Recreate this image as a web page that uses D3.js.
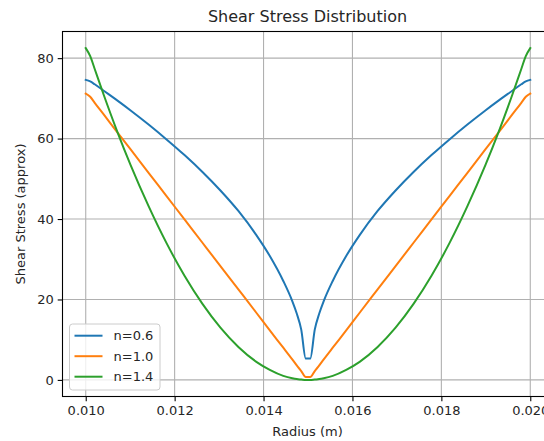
<!DOCTYPE html>
<html>
<head>
<meta charset="utf-8">
<script src="https://cdn.jsdelivr.net/npm/d3@7"></script>
<style>
  body { margin: 0; background: #fff; }
  svg text { font-family: "DejaVu Sans", sans-serif; fill: #262626; }
</style>
</head>
<body>
<div id="chart"></div>
<script>
// radius samples (m)
var radius = [0.010000, 0.010101, 0.010202, 0.010404, 0.010707, 0.011010, 0.011414, 0.011818,
  0.012222, 0.012626, 0.013030, 0.013434, 0.013838, 0.014141, 0.014444, 0.014646, 0.014747,
  0.014848, 0.014949, 0.015051, 0.015152, 0.015253, 0.015354, 0.015556, 0.015859, 0.016162,
  0.016566, 0.016970, 0.017374, 0.017778, 0.018182, 0.018586, 0.018990, 0.019293, 0.019596,
  0.019798, 0.019899, 0.020000];

var tauN06 = [74.6, 74.2, 73.5, 71.9, 69.5, 67.0, 63.5, 59.8, 55.9, 51.7, 47.1, 42.0, 36.0,
  30.8, 24.6, 19.6, 16.5, 12.5, 5.3, 5.3, 12.5, 16.5, 19.6, 24.6, 30.8, 36.0, 42.0, 47.1,
  51.7, 55.9, 59.8, 63.5, 67.0, 69.5, 71.9, 73.5, 74.2, 74.6];

var tauN10 = [71.2, 70.4, 68.9, 66.0, 61.6, 57.3, 51.5, 45.7, 39.9, 34.1, 28.3, 22.5, 16.7,
  12.3, 8.0, 5.1, 3.6, 2.2, 0.7, 0.7, 2.2, 3.6, 5.1, 8.0, 12.3, 16.7, 22.5, 28.3, 34.1,
  39.9, 45.7, 51.5, 57.3, 61.6, 66.0, 68.9, 70.4, 71.2];

var tauN14 = [82.5, 80.5, 77.3, 70.9, 61.8, 53.4, 43.2, 34.0, 25.9, 18.9, 13.0, 8.2, 4.5,
  2.5, 1.0, 0.4, 0.2, 0.1, 0.0, 0.0, 0.1, 0.2, 0.4, 1.0, 2.5, 4.5, 8.2, 13.0, 18.9, 25.9,
  34.0, 43.2, 53.4, 61.8, 70.9, 77.3, 80.5, 82.5];

var seriesNames = ["n=0.6", "n=1.0", "n=1.4"];
var seriesColors = ["#1f77b4", "#ff7f0e", "#2ca02c"];
var xTicks = [0.010, 0.012, 0.014, 0.016, 0.018, 0.020];
var yTicks = [0, 20, 40, 60, 80];

var width = 544, height = 441;
var axLeft = 62.5, axRight = 552.5, axTop = 31.5, axBottom = 396.5;

var svg = d3.select("#chart").append("svg")
  .attr("width", width)
  .attr("height", height);

var x = d3.scaleLinear().domain([0.0095, 0.0205]).range([axLeft + 1, axRight]);
var y = d3.scaleLinear().domain([-4.125, 86.625]).range([axBottom, axTop]);

// grid
svg.append("g").selectAll("line").data(xTicks).enter().append("line")
  .attr("x1", function(d) { return x(d); }).attr("x2", function(d) { return x(d); })
  .attr("y1", axTop).attr("y2", axBottom)
  .style("stroke", "#b0b0b0").style("stroke-width", 1.1);
svg.append("g").selectAll("line").data(yTicks).enter().append("line")
  .attr("x1", axLeft).attr("x2", axRight)
  .attr("y1", function(d) { return y(d); }).attr("y2", function(d) { return y(d); })
  .style("stroke", "#b0b0b0").style("stroke-width", 1.1);

// series
var all = [tauN06, tauN10, tauN14];
var line = d3.line()
  .curve(d3.curveMonotoneX)
  .x(function(d, i) { return x(radius[i]); })
  .y(function(d) { return y(d); });

var plot = svg.append("g");
all.forEach(function(vals, k) {
  plot.append("path")
    .attr("d", line(vals))
    .style("fill", "none")
    .style("stroke", seriesColors[k])
    .style("stroke-width", 2)
    .style("stroke-linejoin", "round")
    .style("stroke-linecap", "square");
});

// axes
var xAxis = svg.append("g")
  .attr("transform", "translate(0," + axBottom + ")")
  .call(d3.axisBottom(x).tickValues(xTicks).tickFormat(d3.format(".3f")).tickSizeOuter(0).tickSize(4.8).tickPadding(4));
var yAxis = svg.append("g")
  .attr("transform", "translate(" + axLeft + ",0)")
  .call(d3.axisLeft(y).tickValues(yTicks).tickSizeOuter(0).tickSize(4.8).tickPadding(4));

[xAxis, yAxis].forEach(function(a) {
  a.select(".domain").remove();
  a.selectAll("line").style("stroke", "#000").style("stroke-width", 1.1);
  a.selectAll("text").style("font-size", "13px").style("fill", "#262626")
    .style("font-family", "DejaVu Sans, sans-serif");
});

// spines
svg.append("rect")
  .attr("x", axLeft).attr("y", axTop)
  .attr("width", axRight - axLeft).attr("height", axBottom - axTop)
  .style("fill", "none").style("stroke", "#000").style("stroke-width", 1.1);

// labels
svg.append("text")
  .attr("x", (axLeft + axRight) / 2).attr("y", 22)
  .attr("text-anchor", "middle")
  .style("font-size", "16px")
  .text("Shear Stress Distribution");

svg.append("text")
  .attr("x", (axLeft + axRight) / 2).attr("y", 436)
  .attr("text-anchor", "middle")
  .style("font-size", "13px")
  .text("Radius (m)");

svg.append("text")
  .attr("transform", "translate(25," + ((axTop + axBottom) / 2) + ") rotate(-90)")
  .attr("text-anchor", "middle")
  .style("font-size", "13px")
  .text("Shear Stress (approx)");

// legend
var legend = svg.append("g").attr("transform", "translate(69.5,324)");
legend.append("rect")
  .attr("width", 90.5).attr("height", 66)
  .attr("rx", 3).attr("ry", 3)
  .style("fill", "#fff").style("fill-opacity", 0.8)
  .style("stroke", "#cccccc").style("stroke-width", 1);
seriesNames.forEach(function(name, k) {
  var yy = 11.7 + k * 20.5;
  legend.append("line")
    .attr("x1", 5).attr("x2", 33)
    .attr("y1", yy).attr("y2", yy)
    .style("stroke", seriesColors[k]).style("stroke-width", 2);
  legend.append("text")
    .attr("x", 44).attr("y", yy + 4.6)
    .style("font-size", "13px")
    .text(name);
});
</script>
</body>
</html>
